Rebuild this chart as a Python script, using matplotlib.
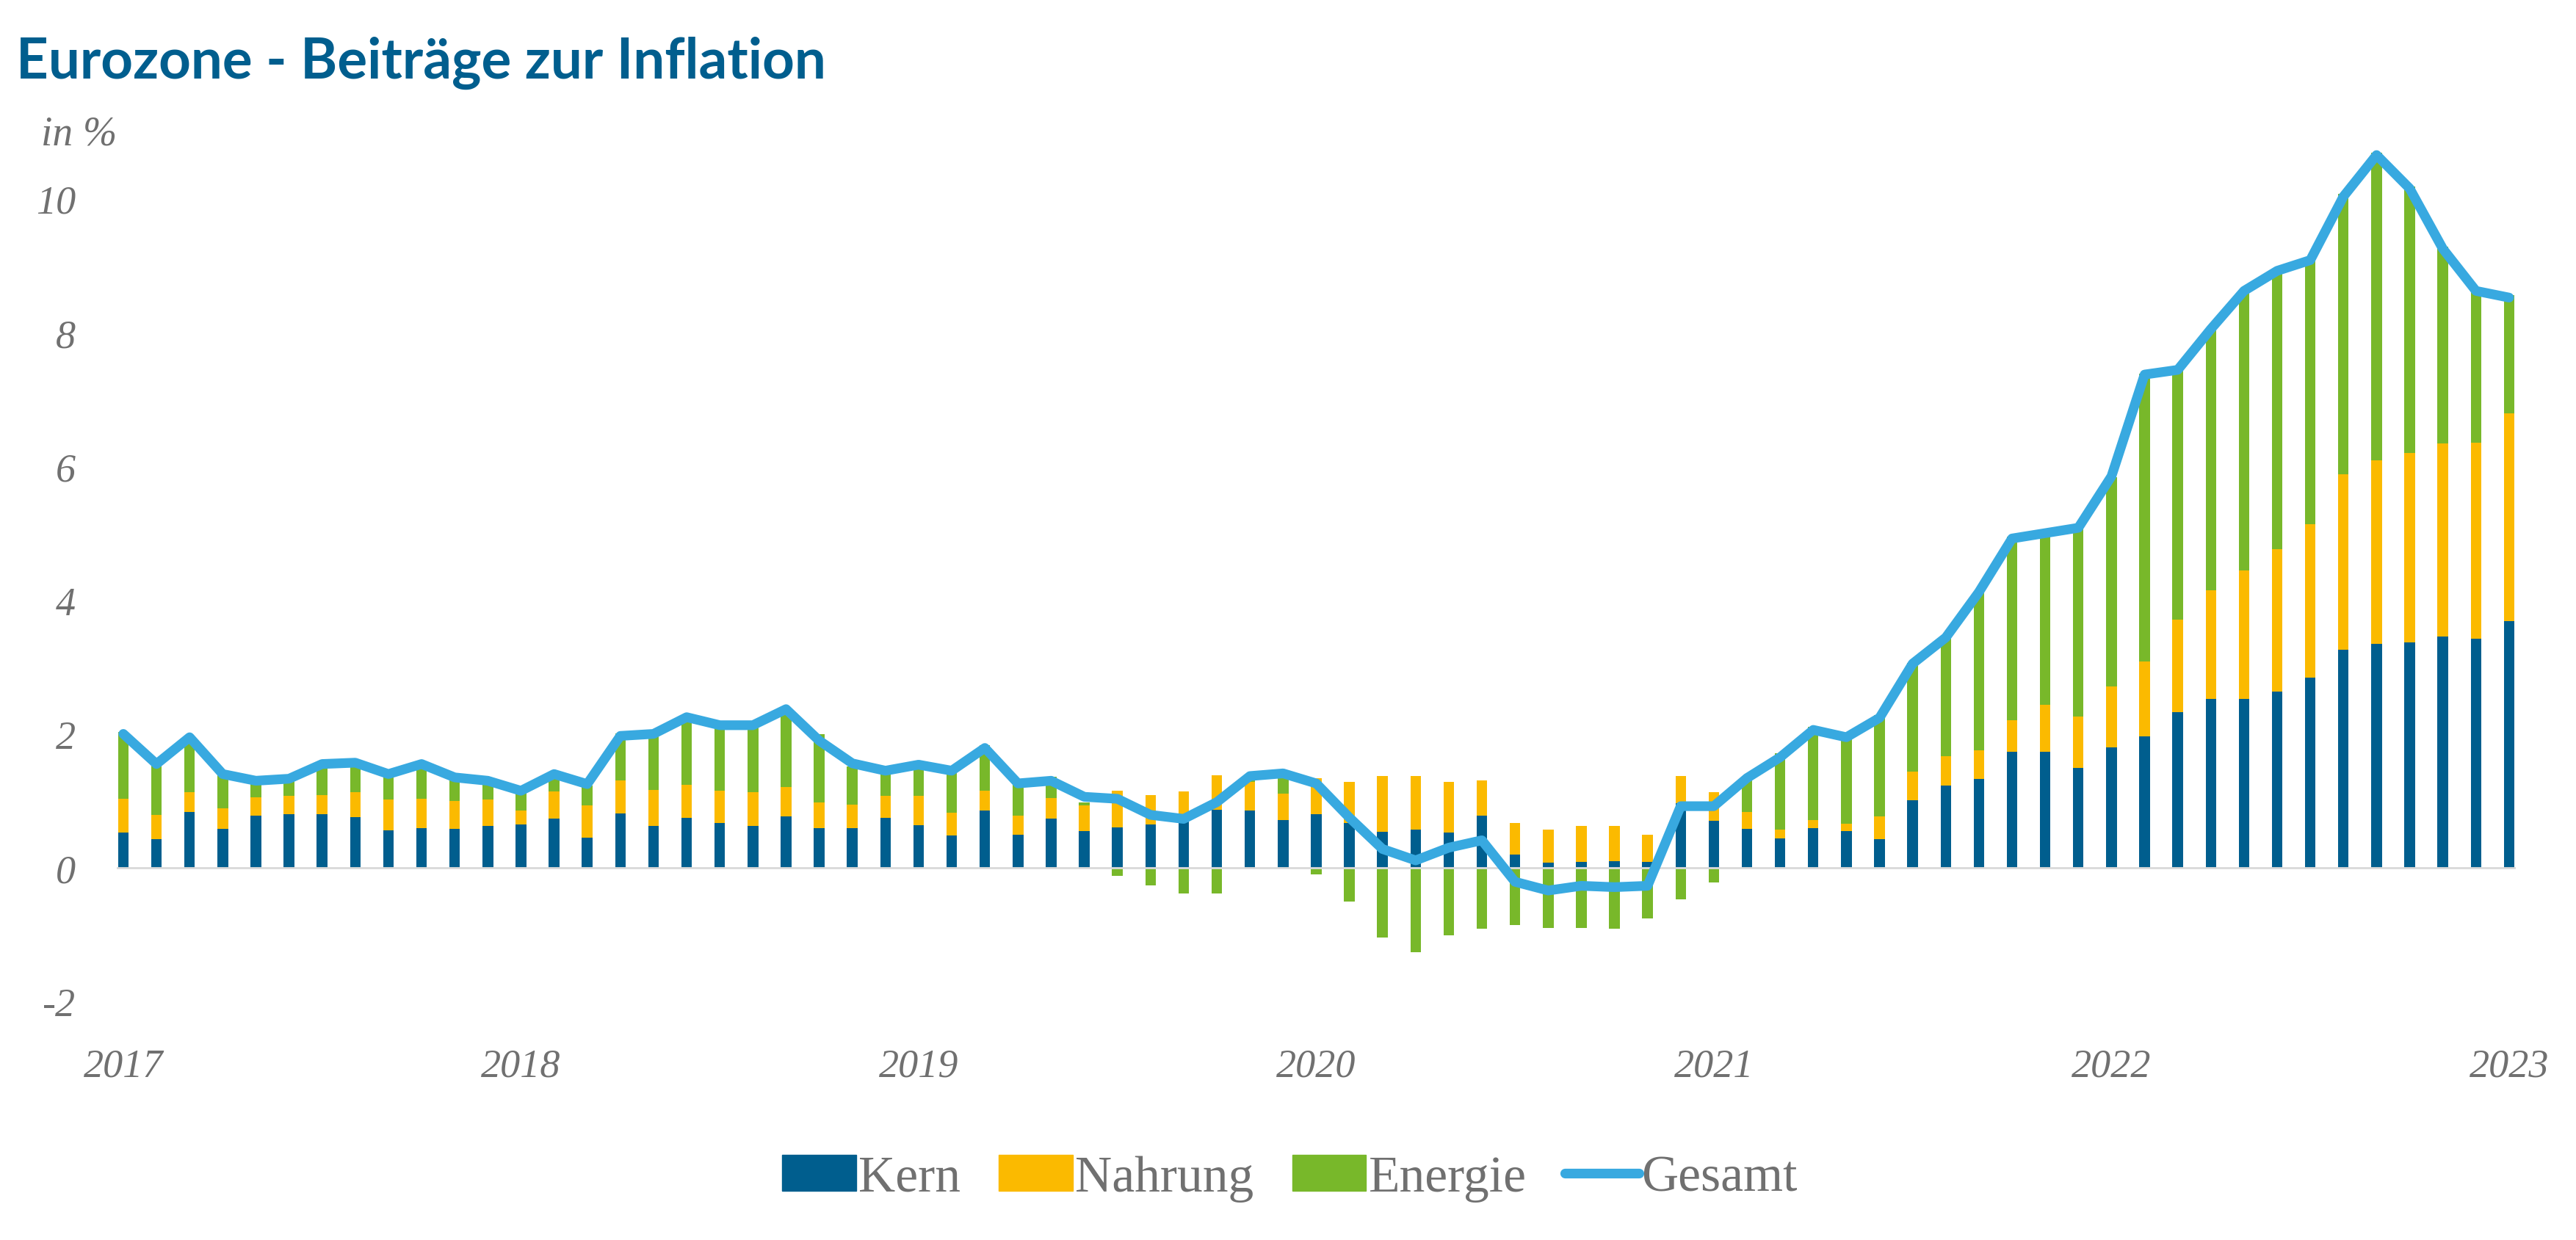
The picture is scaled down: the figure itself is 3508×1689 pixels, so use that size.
import numpy as np
import matplotlib
matplotlib.use("Agg")
import matplotlib.pyplot as plt
from matplotlib.patches import Patch
from matplotlib.lines import Line2D

# Monthly data, Feb 2017 .. Feb 2023 (contributions in percentage points)
year_labels = ["2017", "2018", "2019", "2020", "2021", "2022", "2023"]

kern = [0.53, 0.43, 0.83, 0.58, 0.78, 0.80, 0.80, 0.76, 0.56, 0.59, 0.58, 0.63,
        0.65, 0.73, 0.45, 0.81, 0.62, 0.74, 0.67, 0.62, 0.77, 0.59, 0.59, 0.74,
        0.64, 0.48, 0.85, 0.49, 0.73, 0.55, 0.60, 0.65, 0.69, 0.87, 0.86, 0.71,
        0.80, 0.67, 0.54, 0.57, 0.53, 0.78, 0.20, 0.08, 0.09, 0.10, 0.09, 0.97,
        0.70, 0.58, 0.44, 0.59, 0.55, 0.43, 1.01, 1.23, 1.33, 1.73, 1.73, 1.49,
        1.80, 1.96, 2.33, 2.52, 2.52, 2.63, 2.84, 3.26, 3.35, 3.37, 3.46, 3.42,
        3.69]

nahrung = [0.50, 0.36, 0.30, 0.31, 0.27, 0.27, 0.29, 0.37, 0.46, 0.44, 0.42, 0.39,
           0.20, 0.41, 0.48, 0.50, 0.54, 0.50, 0.48, 0.51, 0.44, 0.39, 0.35, 0.34,
           0.43, 0.34, 0.30, 0.29, 0.31, 0.38, 0.55, 0.44, 0.45, 0.51, 0.42, 0.40,
           0.54, 0.61, 0.83, 0.80, 0.75, 0.52, 0.47, 0.49, 0.54, 0.52, 0.40, 0.40,
           0.43, 0.25, 0.13, 0.12, 0.11, 0.34, 0.43, 0.44, 0.43, 0.47, 0.71, 0.77,
           0.91, 1.12, 1.38, 1.63, 1.92, 2.13, 2.29, 2.62, 2.74, 2.83, 2.88, 2.93,
           3.10]

energie = [1.00, 0.76, 0.84, 0.55, 0.25, 0.28, 0.48, 0.46, 0.40, 0.55, 0.37, 0.25,
           0.28, 0.30, 0.30, 0.70, 0.88, 1.05, 0.98, 0.98, 1.17, 1.02, 0.57, 0.35,
           0.49, 0.65, 0.68, 0.46, 0.32, 0.05, -0.12, -0.26, -0.39, -0.39, 0.08, 0.32,
           -0.10, -0.51, -1.04, -1.26, -1.01, -0.91, -0.86, -0.90, -0.90, -0.91, -0.76, -0.47,
           -0.22, 0.54, 1.14, 1.40, 1.32, 1.51, 1.62, 1.78, 2.36, 2.75, 2.56, 2.84,
           3.13, 4.30, 3.73, 3.90, 4.20, 4.19, 3.96, 4.19, 4.59, 3.98, 2.94, 2.31,
           1.77]

gesamt = [2.00, 1.55, 1.95, 1.40, 1.30, 1.33, 1.55, 1.57, 1.40, 1.55, 1.35, 1.30,
          1.15, 1.40, 1.25, 1.97, 2.00, 2.25, 2.13, 2.13, 2.37, 1.90, 1.56, 1.45,
          1.54, 1.45, 1.79, 1.26, 1.30, 1.06, 1.03, 0.79, 0.73, 0.98, 1.37, 1.41,
          1.26, 0.75, 0.28, 0.11, 0.30, 0.41, -0.21, -0.34, -0.27, -0.29, -0.27, 0.92,
          0.92, 1.34, 1.65, 2.06, 1.95, 2.24, 3.05, 3.44, 4.12, 4.92, 5.00, 5.08,
          5.85, 7.37, 7.44, 8.05, 8.62, 8.92, 9.08, 10.03, 10.65, 10.15, 9.25, 8.62,
          8.52]

C_KERN = "#005E8E"
C_NAHR = "#FBBA00"
C_ENER = "#78B82A"
C_GES = "#38A9E0"
C_TXT = "#707070"

k = np.array(kern)
n = np.array(nahrung)
e = np.array(energie)
x = np.arange(len(k))
e_bottom = np.where(e >= 0, k + n, 0.0)

fig = plt.figure(figsize=(35.08, 16.90), dpi=100)
ax = fig.add_axes([0.0453, 0.1598, 0.9313, 0.7443])

w = 0.32
ax.bar(x, k, width=w, color=C_KERN, zorder=2)
ax.bar(x, n, width=w, bottom=k, color=C_NAHR, zorder=2)
ax.bar(x, e, width=w, bottom=e_bottom, color=C_ENER, zorder=2)
ax.axhline(0, color="#D9D9D9", lw=2, zorder=3)
ax.plot(x, gesamt, color=C_GES, lw=9.5, solid_joinstyle="round",
        solid_capstyle="round", zorder=4)

ax.set_xlim(-0.2, len(k) - 1 + 0.2)
ax.set_ylim(-2.6, 11.2)
ax.set_yticks([-2, 0, 2, 4, 6, 8, 10])
ax.set_yticklabels(["-2", "0", "2", "4", "6", "8", "10"])
ax.set_xticks(np.arange(0, len(k), 12))
ax.set_xticklabels(year_labels)
for lab in ax.get_xticklabels() + ax.get_yticklabels():
    lab.set_fontfamily("Liberation Serif")
    lab.set_fontstyle("italic")
    lab.set_fontsize(39)
    lab.set_color(C_TXT)
ax.tick_params(axis="y", length=0, pad=40)
ax.tick_params(axis="x", length=0, pad=6)
for s in ax.spines.values():
    s.set_visible(False)

fig.text(0.0063, 0.9367, "Eurozone - Beiträge zur Inflation", family="Lato",
         weight="bold", fontsize=55, color=C_KERN, va="baseline", ha="left")
fig.text(0.016, 0.8834, "in %", family="Liberation Serif", style="italic",
         fontsize=40, color=C_TXT, va="baseline", ha="left")

handles = [Patch(color=C_KERN), Patch(color=C_NAHR), Patch(color=C_ENER),
           Line2D([0], [0], color=C_GES, lw=9.5, solid_capstyle="round")]
leg = fig.legend(handles, ["Kern", "Nahrung", "Energie", "Gesamt"], loc="center",
                 bbox_to_anchor=(0.5006, 0.0497), ncol=4, frameon=False,
                 prop={"family": "Liberation Serif", "size": 50},
                 handlelength=1.45, handleheight=0.71, handletextpad=0.05,
                 columnspacing=0.75)
for t in leg.get_texts():
    t.set_color(C_TXT)

fig.savefig("out.png", dpi=100, facecolor="white")
